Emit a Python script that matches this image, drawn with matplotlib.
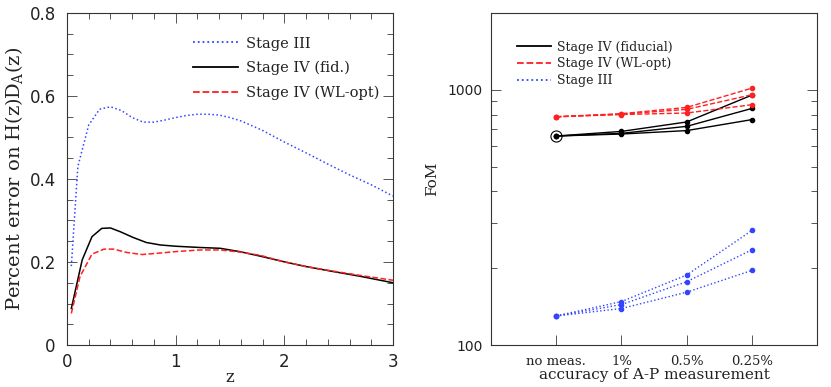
import numpy as np
import matplotlib
matplotlib.use("Agg")
import matplotlib.pyplot as plt
from matplotlib.lines import Line2D
from matplotlib.ticker import MultipleLocator, FixedLocator, NullFormatter

plt.rcParams['mathtext.fontset'] = 'dejavuserif'

# left panel: percent error on H(z)D_A(z) vs z
z_s3 = [0.04, 0.1, 0.2, 0.3, 0.4, 0.5, 0.6, 0.7, 0.8, 0.9, 1.0, 1.1, 1.2, 1.3,
        1.4, 1.5, 1.6, 1.8, 2.0, 2.2, 2.4, 2.6, 2.8, 3.0]
err_s3 = [0.19, 0.43, 0.53, 0.568, 0.574, 0.565, 0.548, 0.537, 0.537, 0.542,
          0.548, 0.553, 0.556, 0.556, 0.554, 0.548, 0.540, 0.517, 0.489, 0.463,
          0.436, 0.410, 0.386, 0.359]
z_s4 = [0.04, 0.14, 0.23, 0.32, 0.40, 0.49, 0.61, 0.73, 0.86, 1.0, 1.22, 1.41,
        1.59, 1.78, 1.99, 2.2, 2.45, 2.69, 3.0]
err_fid = [0.088, 0.205, 0.261, 0.281, 0.282, 0.273, 0.259, 0.247, 0.241, 0.238,
           0.235, 0.233, 0.225, 0.214, 0.201, 0.189, 0.177, 0.166, 0.150]
z_wl = [0.04, 0.12, 0.23, 0.34, 0.43, 0.55, 0.69, 0.83, 1.0, 1.22, 1.41, 1.59,
        1.78, 1.99, 2.2, 2.45, 2.69, 3.0]
err_wl = [0.076, 0.165, 0.219, 0.231, 0.231, 0.223, 0.218, 0.221, 0.225, 0.229,
          0.229, 0.224, 0.216, 0.201, 0.189, 0.178, 0.168, 0.156]

# right panel: FoM vs accuracy of A-P measurement
cats = ['no meas.', '1%', '0.5%', '0.25%']
fom_fid = [[659, 687, 748, 953],
           [659, 675, 719, 845],
           [659, 671, 692, 764]]
fom_wl = [[784, 806, 853, 1015],
          [784, 803, 838, 956],
          [784, 800, 811, 874]]
fom_s3 = [[130, 148, 188, 281],
          [130, 144, 177, 236],
          [130, 139, 161, 196]]

blue = '#3344ff'
red = '#ff2020'
serif = 'DejaVu Serif'
txt = '#222222'

fig = plt.figure(figsize=(8.31, 3.87), dpi=100)
ax1 = fig.add_axes([0.0806, 0.1085, 0.3923, 0.858])
ax2 = fig.add_axes([0.5909, 0.1085, 0.3923, 0.858])

ax1.plot(z_s3, err_s3, ':', color=blue, lw=1.1)
ax1.plot(z_s4, err_fid, '-', color='black', lw=1.1)
ax1.plot(z_wl, err_wl, '--', color=red, lw=1.1)
ax1.set_xlim(0, 3)
ax1.set_ylim(0, 0.8)
ax1.set_xticks([0, 1, 2, 3], ['0', '1', '2', '3'])
ax1.set_yticks([0, 0.2, 0.4, 0.6, 0.8], ['0', '0.2', '0.4', '0.6', '0.8'])
ax1.xaxis.set_minor_locator(MultipleLocator(0.2))
ax1.yaxis.set_minor_locator(MultipleLocator(0.05))
ax1.set_xlabel('z', fontsize=12, family=serif, color=txt, labelpad=-2)
ax1.set_ylabel('Percent error on H(z)D$_\\mathregular{A}$(z)', fontsize=14,
               family=serif, color=txt, labelpad=3)
h1 = [Line2D([], [], ls=':', color=blue, lw=1.3),
      Line2D([], [], ls='-', color='black', lw=1.3),
      Line2D([], [], ls='--', color=red, lw=1.3)]
ax1.legend(h1, ['Stage III', 'Stage IV (fid.)', 'Stage IV (WL-opt)'],
           loc='upper left', bbox_to_anchor=(0.3865, 0.929), frameon=False,
           borderaxespad=0, borderpad=0, handlelength=3.1, labelspacing=0.7,
           handletextpad=0.55, prop={'family': serif, 'size': 10.5},
           labelcolor=txt)

for row in fom_fid:
    ax2.plot(range(4), row, '-', color='black', lw=1.0, marker='o', ms=3)
for row in fom_wl:
    ax2.plot(range(4), row, '--', color=red, lw=1.0, marker='o', ms=3)
for row in fom_s3:
    ax2.plot(range(4), row, ':', color=blue, lw=1.0, marker='o', ms=3)
ax2.plot([0], [fom_fid[0][0]], 'o', mfc='none', mec='black', ms=8, mew=0.8)
ax2.set_yscale('log')
ax2.set_ylim(100, 2000)
ax2.set_xlim(-1, 4)
ax2.set_xticks(range(4), cats)
ax2.yaxis.set_major_locator(FixedLocator([100, 1000]))
ax2.set_yticklabels(['100', '1000'])
ax2.yaxis.set_minor_locator(FixedLocator([200, 300, 400, 500, 600, 700, 800, 900]))
ax2.yaxis.set_minor_formatter(NullFormatter())
ax2.set_xlabel('accuracy of A-P measurement', fontsize=11, family=serif,
               color=txt, labelpad=0)
ax2.set_ylabel('FoM', fontsize=11, family=serif, color=txt, labelpad=6)
h2 = [Line2D([], [], ls='-', color='black', lw=1.3),
      Line2D([], [], ls='--', color=red, lw=1.3),
      Line2D([], [], ls=':', color=blue, lw=1.3)]
ax2.legend(h2, ['Stage IV (fiducial)', 'Stage IV (WL-opt)', 'Stage III'],
           loc='upper left', bbox_to_anchor=(0.079, 0.917), frameon=False,
           borderaxespad=0, borderpad=0, handlelength=2.7, labelspacing=0.3,
           handletextpad=0.55, prop={'family': serif, 'size': 9},
           labelcolor=txt)

for ax in (ax1, ax2):
    ax.tick_params(which='both', direction='in', top=True, right=True,
                   labelsize=12, labelcolor=txt, color='#555555', width=0.7)
    ax.tick_params(which='major', length=7.5, pad=6)
    ax.tick_params(which='minor', length=4)
    for s in ax.spines.values():
        s.set_linewidth(0.8)
        s.set_color('#333333')
ax1.tick_params(axis='y', which='major', pad=8)
ax2.tick_params(axis='y', which='both', labelsize=10)
ax2.tick_params(axis='x', which='both', top=False, labelsize=9.5, pad=7)
for lbl in ax2.get_xticklabels():
    lbl.set_family(serif)

fig.savefig('out.png', dpi=100)
